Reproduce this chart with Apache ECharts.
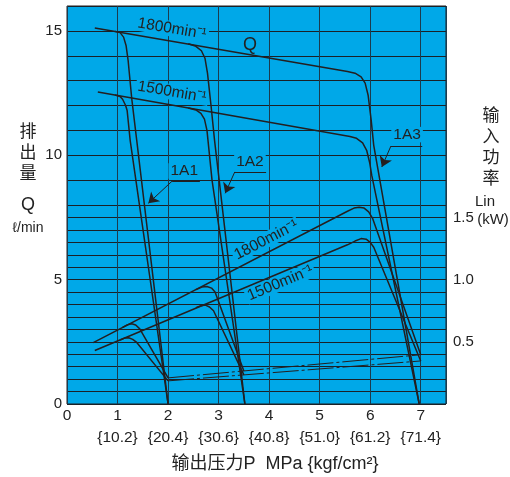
<!DOCTYPE html>
<html>
<head>
<meta charset="utf-8">
<script src="https://cdn.jsdelivr.net/npm/echarts@6/dist/echarts.min.js"></script>
<style>html,body{margin:0;padding:0;background:#fff;}#c{width:510px;height:477px;}</style>
</head>
<body>
<div id="c"></div>
<script>
// ---- data ----
const xTicks = [0,1,2,3,4,5,6,7];
const kgfLabels = ['10.2','20.4','30.6','40.8','51.0','61.2','71.4'];
const leftTickLabels = [0,5,10,15];
const rightTickLabels = [0.5,1.0,1.5];

// flow Q (l/min) vs pressure P (MPa)
const q1800Main = [[0.55,15.12],[5.55,13.37],[5.7,13.3],[5.82,13.15],[5.9,12.9],[5.96,12.4],[6.02,11.4],[6.07,10.4],[6.97,0]];
const q1500Main = [[0.61,12.54],[5.6,10.75],[5.73,10.68],[5.85,10.5],[5.93,10.2],[5.99,9.7],[6.03,9.2],[6.97,0]];
const q1800A1 = [[0.95,14.98],[1.05,14.93],[1.12,14.75],[1.17,14.4],[1.21,13.8],[1.28,12.3],[1.38,10.6],[2.0,0]];
const q1500A1 = [[0.95,12.42],[1.05,12.36],[1.1,12.25],[1.16,12.0],[1.19,11.8],[1.25,10.6],[2.0,0]];
const q1800A2 = [[2.4,14.48],[2.55,14.38],[2.66,14.2],[2.73,13.9],[2.78,13.3],[2.85,12.0],[2.92,10.6],[3.0,9.2],[3.52,0]];
const q1500A2 = [[2.4,11.9],[2.55,11.82],[2.65,11.68],[2.72,11.45],[2.77,11.0],[2.8,10.4],[2.87,9.0],[3.52,0]];

// input power Lin (kW) vs pressure P (MPa)
const p1800Main = [[0.52,0.494],[5.55,1.55],[5.68,1.575],[5.78,1.582],[5.88,1.575],[5.97,1.545],[6.05,1.49],[7.0,0.396]];
const p1500Main = [[0.55,0.43],[5.55,1.28],[5.7,1.31],[5.82,1.33],[5.92,1.325],[6.0,1.3],[6.07,1.26],[7.0,0.346]];
const p1800A1 = [[1.1,0.616],[1.2,0.637],[1.28,0.645],[1.36,0.635],[1.44,0.604],[2.0,0.21]];
const p1500A1 = [[1.05,0.515],[1.14,0.53],[1.22,0.533],[1.3,0.52],[1.38,0.495],[2.0,0.186]];
const p1800A2 = [[2.55,0.92],[2.67,0.94],[2.77,0.945],[2.86,0.932],[2.93,0.9],[3.5,0.266]];
const p1500A2 = [[2.55,0.775],[2.65,0.79],[2.74,0.795],[2.82,0.78],[2.9,0.75],[3.5,0.234]];
const pDead1800 = [[2.0,0.21],[7.0,0.396]];
const pDead1500 = [[2.0,0.186],[7.0,0.346]];

// annotation anchors (data coords, left axis units)
const leaders = [
  {name:'1A1', tip:[1.61,8.07], corner:[2.08,8.96], end:[2.63,8.96], text:[2.32,9.37]},
  {name:'1A2', tip:[3.13,8.47], corner:[3.32,9.33], end:[3.94,9.33], text:[3.62,9.75]},
  {name:'1A3', tip:[6.23,9.53], corner:[6.41,10.37], end:[7.03,10.37], text:[6.73,10.83]}
];
const curveLabels = [
  {text:'1800min⁻¹', at:[2.08,15.08], rot:-0.17},
  {text:'1500min⁻¹', at:[2.08,12.54], rot:-0.17},
  {text:'Q', at:[3.62,14.43], rot:0},
  {text:'1800min⁻¹', at:[3.94,6.59], rot:0.477},
  {text:'1500min⁻¹', at:[4.22,4.86], rot:0.396}
];

// ---- chart ----
const FONT = '"Liberation Sans", "Noto Sans CJK SC", sans-serif';
const BLUE = '#00a8e8';
const INK = '#231f20';
const chart = echarts.init(document.getElementById('c'), null, {renderer:'canvas'});

function line(data, yIdx, dashed) {
  return {type:'line', xAxisIndex:0, yAxisIndex:yIdx, data:data, symbol:'none', showSymbol:false,
    silent:true, animation:false, z:3,
    lineStyle:{color:INK, width:dashed?1:1.5, type:dashed?[26,3,3,3]:'solid'}};
}

const option = {
  animation:false,
  grid:[
    {left:67, top:6, width:379, height:398, show:true, backgroundColor:BLUE, borderColor:INK, borderWidth:1, z:0},
    {left:67, top:205, width:379, height:199, show:false}
  ],
  xAxis:[
    {gridIndex:0, type:'value', min:0, max:7.5, interval:1, z:1,
     axisLine:{show:false}, axisTick:{show:false},
     splitLine:{show:true, lineStyle:{color:'#1c3b4e', width:1}},
     axisLabel:{showMaxLabel:false, margin:1, lineHeight:22, fontSize:15.5, color:'#222', fontFamily:FONT,
       formatter:function(v){ if(v===0) return '0'; const i=xTicks.indexOf(v); if(i<1) return ''; return v+'\n{'+kgfLabels[i-1]+'}'; }}},
    {gridIndex:1, type:'value', min:0, max:7.5, show:false}
  ],
  yAxis:[
    {gridIndex:0, type:'value', position:'left', min:0, max:16, interval:1, z:1,
     axisLine:{show:false}, axisTick:{show:false},
     splitLine:{show:true, lineStyle:{color:'#1a2127', width:1}},
     axisLabel:{margin:5, fontSize:15, color:'#222', fontFamily:FONT,
       formatter:function(v){ return leftTickLabels.indexOf(v)>=0 ? String(v) : ''; }}},
    {gridIndex:0, type:'value', position:'right', min:0, max:3.2, interval:0.5, z:1,
     axisLine:{show:false}, axisTick:{show:false}, splitLine:{show:false},
     axisLabel:{margin:7, fontSize:15, color:'#222', fontFamily:FONT,
       formatter:function(v){ return rightTickLabels.some(function(r){return Math.abs(r-v)<1e-6;}) ? v.toFixed(1) : ''; }}},
    {gridIndex:1, type:'value', min:0, max:8, interval:0.5, z:1,
     axisLine:{show:false}, axisTick:{show:false}, axisLabel:{show:false},
     splitLine:{show:true, lineStyle:{color:'#1a2127', width:1}}}
  ],
  series:[
    line(q1800Main,0), line(q1500Main,0), line(q1800A1,0), line(q1500A1,0), line(q1800A2,0), line(q1500A2,0),
    line(p1800Main,1), line(p1500Main,1), line(p1800A1,1), line(p1500A1,1), line(p1800A2,1), line(p1500A2,1),
    line(pDead1800,1,true), line(pDead1500,1,true),
    {type:'lines', coordinateSystem:'cartesian2d', xAxisIndex:0, yAxisIndex:0, silent:true, z:4,
     symbol:['none','arrow'], symbolSize:[6,10], lineStyle:{color:INK, width:1, opacity:1},
     data:leaders.map(function(l){return {coords:[l.corner,l.tip]};})},
    {type:'lines', coordinateSystem:'cartesian2d', xAxisIndex:0, yAxisIndex:0, silent:true, z:4,
     symbol:['none','none'], lineStyle:{color:INK, width:1, opacity:1},
     data:leaders.map(function(l){return {coords:[l.corner,l.end]};})}
  ]
};
chart.setOption(option);

const g = [];
function px(p){ return chart.convertToPixel({xAxisIndex:0, yAxisIndex:0}, p); }
curveLabels.forEach(function(c){
  const p = px(c.at);
  g.push({type:'text', x:p[0], y:p[1], rotation:c.rot, z:2, silent:true,
    style:{text:c.text, x:0, y:0, align:'center', verticalAlign:'middle', fill:'#222',
      font:(c.text==='Q'?'18px ':'15.5px ')+FONT, backgroundColor:BLUE, padding:[0,2]}});
});
leaders.forEach(function(l){
  const p = px(l.text);
  g.push({type:'text', x:p[0], y:p[1], z:2, silent:true,
    style:{text:l.name, x:0, y:0, align:'center', verticalAlign:'middle', fill:'#222', font:'15.5px '+FONT,
      backgroundColor:BLUE, padding:[0,2]}});
});
// axis titles
g.push({type:'text', x:28, y:122, silent:true, style:{text:'排\n出\n量', align:'center', verticalAlign:'top', fill:'#222', font:'17px '+FONT, lineHeight:21}});
g.push({type:'text', x:28, y:205, silent:true, style:{text:'Q', align:'center', verticalAlign:'middle', fill:'#222', font:'18px '+FONT}});
g.push({type:'text', x:28, y:228, silent:true, style:{text:'ℓ/min', align:'center', verticalAlign:'middle', fill:'#222', font:'14px '+FONT}});
g.push({type:'text', x:491, y:106, silent:true, style:{text:'输\n入\n功\n率', align:'center', verticalAlign:'top', fill:'#222', font:'17px '+FONT, lineHeight:21}});
g.push({type:'text', x:485, y:202, silent:true, style:{text:'Lin', align:'center', verticalAlign:'middle', fill:'#222', font:'15px '+FONT}});
g.push({type:'text', x:493, y:220, silent:true, style:{text:'(kW)', align:'center', verticalAlign:'middle', fill:'#222', font:'15px '+FONT}});
g.push({type:'text', x:275, y:464, silent:true, style:{text:'输出压力P  MPa {kgf/cm²}', align:'center', verticalAlign:'middle', fill:'#222', font:'18px '+FONT}});
chart.setOption({graphic:{elements:g}});
</script>
</body>
</html>
